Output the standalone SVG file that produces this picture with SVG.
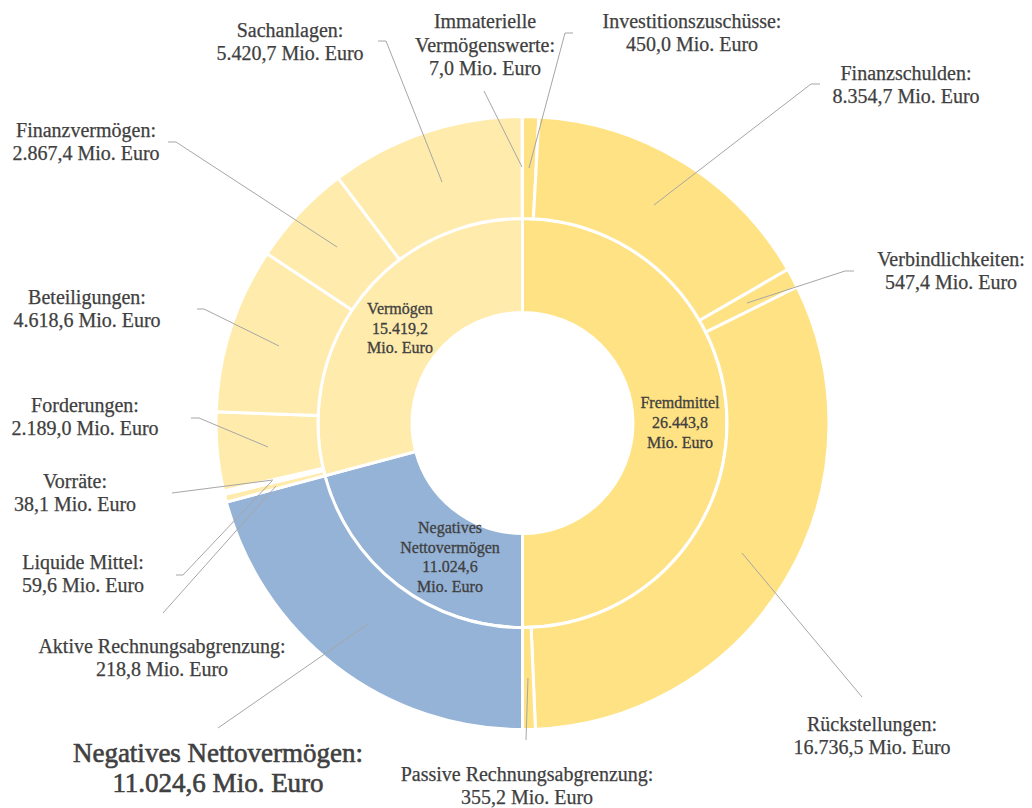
<svg xmlns="http://www.w3.org/2000/svg" width="1032" height="808" viewBox="0 0 1032 808">
<style>
.seg{stroke:#fff;stroke-width:3;stroke-linejoin:miter}
.v{fill:#FFEBAC}
.f{fill:#FFE283}
.n{fill:#95B3D7}
.lbl{font-family:"Liberation Serif",serif;font-size:20px;fill:#404040;text-anchor:middle;stroke:#404040;stroke-width:0.25}
.big{font-size:27px;stroke:#404040;stroke-width:0.6}
.in{font-family:"Liberation Serif",serif;font-size:16px;fill:#404040;text-anchor:middle;stroke:#404040;stroke-width:0.3}
.lead{fill:none;stroke:#A6A6A6;stroke-width:1}
</style>
<rect width="1032" height="808" fill="#fff"/>
<g id="inner-ring">
<g id="fremdmittel"><path class="seg f" d="M522.5 218.5 A204.5 204.5 0 0 1 522.5 627.5 L522.5 533.5 A110.5 110.5 0 0 0 522.5 312.5 Z"/>
<text class="in" x="680" y="408">Fremdmittel</text><text class="in" x="680" y="428">26.443,8</text><text class="in" x="680" y="448">Mio. Euro</text></g>
<g id="nnv-inner"><path class="seg n" d="M522.5 627.5 A204.5 204.5 0 0 1 324.93 475.78 L415.74 451.52 A110.5 110.5 0 0 0 522.5 533.5 Z"/>
<text class="in" x="450" y="533">Negatives</text><text class="in" x="450" y="553">Nettovermögen</text><text class="in" x="450" y="572">11.024,6</text><text class="in" x="450" y="592">Mio. Euro</text></g>
<g id="vermoegen"><path class="seg v" d="M324.93 475.78 A204.5 204.5 0 0 1 522.5 218.5 L522.5 312.5 A110.5 110.5 0 0 0 415.74 451.52 Z"/>
<text class="in" x="400" y="314">Vermögen</text><text class="in" x="400" y="333.5">15.419,2</text><text class="in" x="400" y="353">Mio. Euro</text></g>
</g>
<g id="outer-ring">
<g id="investitionszuschuesse"><path class="seg f" d="M522.5 116.5 A306.5 306.5 0 0 1 538.88 116.94 L533.43 218.79 A204.5 204.5 0 0 0 522.5 218.5 Z"/></g>
<g id="finanzschulden"><path class="seg f" d="M538.88 116.94 A306.5 306.5 0 0 1 787.76 269.44 L699.48 320.54 A204.5 204.5 0 0 0 533.43 218.79 Z"/></g>
<g id="verbindlichkeiten"><path class="seg f" d="M787.76 269.44 A306.5 306.5 0 0 1 797.18 287 L705.77 332.26 A204.5 204.5 0 0 0 699.48 320.54 Z"/></g>
<g id="rueckstellungen"><path class="seg f" d="M797.18 287 A306.5 306.5 0 0 1 535.42 729.23 L531.12 627.32 A204.5 204.5 0 0 0 705.77 332.26 Z"/></g>
<g id="passive-rap"><path class="seg f" d="M535.42 729.23 A306.5 306.5 0 0 1 522.5 729.5 L522.5 627.5 A204.5 204.5 0 0 0 531.12 627.32 Z"/></g>
<g id="nnv-outer"><path class="seg n" d="M522.5 729.5 A306.5 306.5 0 0 1 226.38 502.11 L324.93 475.78 A204.5 204.5 0 0 0 522.5 627.5 Z"/></g>
<g id="aktive-rap"><path class="seg v" d="M226.38 502.11 A306.5 306.5 0 0 1 224.43 494.39 L323.62 470.63 A204.5 204.5 0 0 0 324.93 475.78 Z"/></g>
<g id="liquide-mittel"><path class="seg v" d="M224.43 494.39 A306.5 306.5 0 0 1 223.93 492.27 L323.29 469.22 A204.5 204.5 0 0 0 323.62 470.63 Z"/></g>
<g id="vorraete"><path class="seg v" d="M223.93 492.27 A306.5 306.5 0 0 1 223.62 490.92 L323.08 468.32 A204.5 204.5 0 0 0 323.29 469.22 Z"/></g>
<g id="forderungen"><path class="seg v" d="M223.62 490.92 A306.5 306.5 0 0 1 216.21 411.79 L318.14 415.52 A204.5 204.5 0 0 0 323.08 468.32 Z"/></g>
<g id="beteiligungen"><path class="seg v" d="M216.21 411.79 A306.5 306.5 0 0 1 267.02 253.67 L352.04 310.02 A204.5 204.5 0 0 0 318.14 415.52 Z"/></g>
<g id="finanzvermoegen"><path class="seg v" d="M267.02 253.67 A306.5 306.5 0 0 1 338.27 178.05 L399.58 259.56 A204.5 204.5 0 0 0 352.04 310.02 Z"/></g>
<g id="sachanlagen"><path class="seg v" d="M338.27 178.05 A306.5 306.5 0 0 1 522.24 116.5 L522.33 218.5 A204.5 204.5 0 0 0 399.58 259.56 Z"/></g>
<g id="immaterielle"><path class="seg v" d="M522.24 116.5 A306.5 306.5 0 0 1 522.5 116.5 L522.5 218.5 A204.5 204.5 0 0 0 522.33 218.5 Z"/></g>
</g>
<g id="connectors">
<polyline class="lead" points="378,41 386,41 442,182"/>
<polyline class="lead" points="484,91 522,167"/>
<polyline class="lead" points="573,33 565,33 529,168"/>
<polyline class="lead" points="820,84 811,84 654,205"/>
<polyline class="lead" points="168,142 176,142 337,247"/>
<polyline class="lead" points="854,271 845,271 747,303"/>
<polyline class="lead" points="197,309 204,309 279,346"/>
<polyline class="lead" points="191,418 199,418 268,447"/>
<polyline class="lead" points="172,493 273,480"/>
<polyline class="lead" points="176,575 183,575 272,481"/>
<polyline class="lead" points="163,613 276,486"/>
<polyline class="lead" points="368,624 218,728"/>
<polyline class="lead" points="742,553 862,697"/>
<polyline class="lead" points="528,678 526,740"/>
</g>
<g id="labels">
<g id="lbl-sachanlagen"><text class="lbl" x="290" y="37">Sachanlagen:</text><text class="lbl" x="290" y="60">5.420,7 Mio. Euro</text></g>
<g id="lbl-immaterielle"><text class="lbl" x="485" y="28">Immaterielle</text><text class="lbl" x="485" y="51.5">Vermögenswerte:</text><text class="lbl" x="485" y="75">7,0 Mio. Euro</text></g>
<g id="lbl-investitionszuschuesse"><text class="lbl" x="692" y="28">Investitionszuschüsse:</text><text class="lbl" x="692" y="51">450,0 Mio. Euro</text></g>
<g id="lbl-finanzschulden"><text class="lbl" x="906" y="80">Finanzschulden:</text><text class="lbl" x="906" y="103">8.354,7 Mio. Euro</text></g>
<g id="lbl-finanzvermoegen"><text class="lbl" x="86" y="137">Finanzvermögen:</text><text class="lbl" x="86" y="160">2.867,4 Mio. Euro</text></g>
<g id="lbl-verbindlichkeiten"><text class="lbl" x="951" y="266">Verbindlichkeiten:</text><text class="lbl" x="951" y="289">547,4 Mio. Euro</text></g>
<g id="lbl-beteiligungen"><text class="lbl" x="87" y="304">Beteiligungen:</text><text class="lbl" x="87" y="327">4.618,6 Mio. Euro</text></g>
<g id="lbl-forderungen"><text class="lbl" x="85" y="412">Forderungen:</text><text class="lbl" x="85" y="435">2.189,0 Mio. Euro</text></g>
<g id="lbl-vorraete"><text class="lbl" x="75" y="488">Vorräte:</text><text class="lbl" x="75" y="511">38,1 Mio. Euro</text></g>
<g id="lbl-liquide"><text class="lbl" x="83" y="569">Liquide Mittel:</text><text class="lbl" x="83" y="592">59,6 Mio. Euro</text></g>
<g id="lbl-aktive-rap"><text class="lbl" x="162" y="653">Aktive Rechnungsabgrenzung:</text><text class="lbl" x="162" y="676">218,8 Mio. Euro</text></g>
<g id="lbl-nnv"><text class="lbl big" x="218" y="762">Negatives Nettovermögen:</text><text class="lbl big" x="218" y="792">11.024,6 Mio. Euro</text></g>
<g id="lbl-rueckstellungen"><text class="lbl" x="872" y="731">Rückstellungen:</text><text class="lbl" x="872" y="754">16.736,5 Mio. Euro</text></g>
<g id="lbl-passive-rap"><text class="lbl" x="527" y="781">Passive Rechnungsabgrenzung:</text><text class="lbl" x="527" y="804">355,2 Mio. Euro</text></g>
</g>
</svg>
